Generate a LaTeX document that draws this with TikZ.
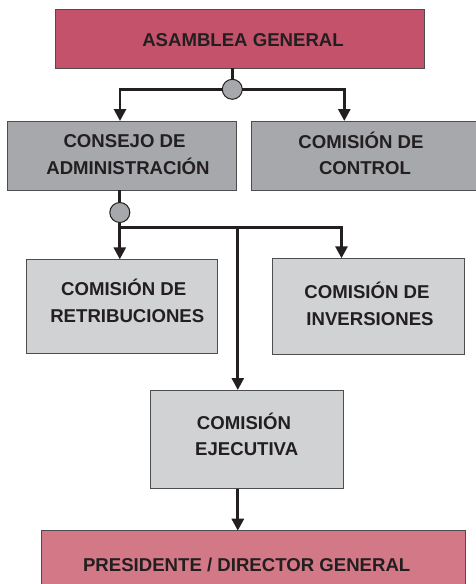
\documentclass[tikz,border=0pt]{standalone}
\usepackage{fontspec}
\setmainfont{Liberation Sans}
\usetikzlibrary{arrows.meta}
\definecolor{rojo}{HTML}{C4526B}
\definecolor{rosa}{HTML}{D27887}
\definecolor{grisosc}{HTML}{A7A8AB}
\definecolor{grisclr}{HTML}{D1D2D4}
\definecolor{tinta}{HTML}{231F20}
\definecolor{borde}{HTML}{4D4D4F}
\tikzset{
  boxst/.style={draw=borde, line width=1pt, rectangle, inner sep=0pt, outer sep=0pt},
  txt/.style={font=\fontsize{18.6}{22}\selectfont\bfseries, text=tinta, inner sep=0pt, anchor=base},
  conn/.style={draw=tinta, line width=2.8pt},
  arr/.style={conn, -{Triangle[width=12pt,length=12pt]}},
  dot/.style={circle, draw=tinta, line width=1pt, fill=grisosc, minimum size=20pt, inner sep=0pt, outer sep=0pt}
}
\begin{document}
\begin{tikzpicture}[x=1pt,y=-1pt]
\useasboundingbox (0,0) rectangle (475,584);
% boxes
\node[boxst, fill=rojo, minimum width=369pt, minimum height=59pt] (asam) at (239.5,38.8) {};
\node[boxst, fill=grisosc, minimum width=229.4pt, minimum height=69.3pt] (cons) at (122,155.65) {};
\node[boxst, fill=grisosc, minimum width=225pt, minimum height=69.3pt] (ctrl) at (363.5,155.65) {};
\node[boxst, fill=grisclr, minimum width=191.4pt, minimum height=93.7pt] (retr) at (122,306.15) {};
\node[boxst, fill=grisclr, minimum width=191.3pt, minimum height=95.7pt] (inve) at (368.35,306.15) {};
\node[boxst, fill=grisclr, minimum width=193pt, minimum height=98.7pt] (ejec) at (246.8,439.35) {};
\node[boxst, fill=rosa, minimum width=423.3pt, minimum height=69.3pt] (pres) at (253.35,565.35) {};
% texts
\node[txt] (t1) at (243,46) {ASAMBLEA GENERAL};
\node[txt] (t2a) at (124.5,147.7) {CONSEJO DE};
\node[txt] (t2b) at (128,174) {ADMINISTRACIÓN};
\node[txt] (t3a) at (361,148.3) {COMISIÓN DE};
\node[txt] (t3b) at (365,174) {CONTROL};
\node[txt] (t4a) at (123.7,295.7) {COMISIÓN DE};
\node[txt] (t4b) at (127.3,322.3) {RETRIBUCIONES};
\node[txt] (t5a) at (367,298.7) {COMISIÓN DE};
\node[txt] (t5b) at (370,325.7) {INVERSIONES};
\node[txt] (t6a) at (244,429) {COMISIÓN};
\node[txt] (t6b) at (246.7,455.7) {EJECUTIVA};
\node[txt] (t7) at (246.7,571.7) {PRESIDENTE / DIRECTOR GENERAL};
% junction dots and corner coordinates
\node[dot] (c1) at (232.3,89.3) {};
\node[dot] (c2) at (119.8,212.5) {};
\coordinate (j1l) at (120,89.3);
\coordinate (j1r) at (344.3,89.3);
\coordinate (j2l) at (119.8,227.3);
\coordinate (j2m) at (237.8,227.3);
\coordinate (j2r) at (341.5,227.3);
% connectors
\draw[conn] (asam.south -| c1) -- (c1.north);
\draw[arr] (c1.west) -- (j1l) -- (j1l |- cons.north);
\draw[arr] (c1.east) -- (j1r) -- (j1r |- ctrl.north);
\draw[conn] (cons.south -| c2) -- (c2.north);
\draw[arr] (c2.south) -- (c2 |- retr.north);
\draw[arr] (j2l) -- (j2r) -- (j2r |- inve.north);
\draw[arr] (j2m) -- (j2m |- ejec.north);
\draw[arr] (ejec.south -| j2m) -- (j2m |- pres.north);
\end{tikzpicture}
\end{document}
